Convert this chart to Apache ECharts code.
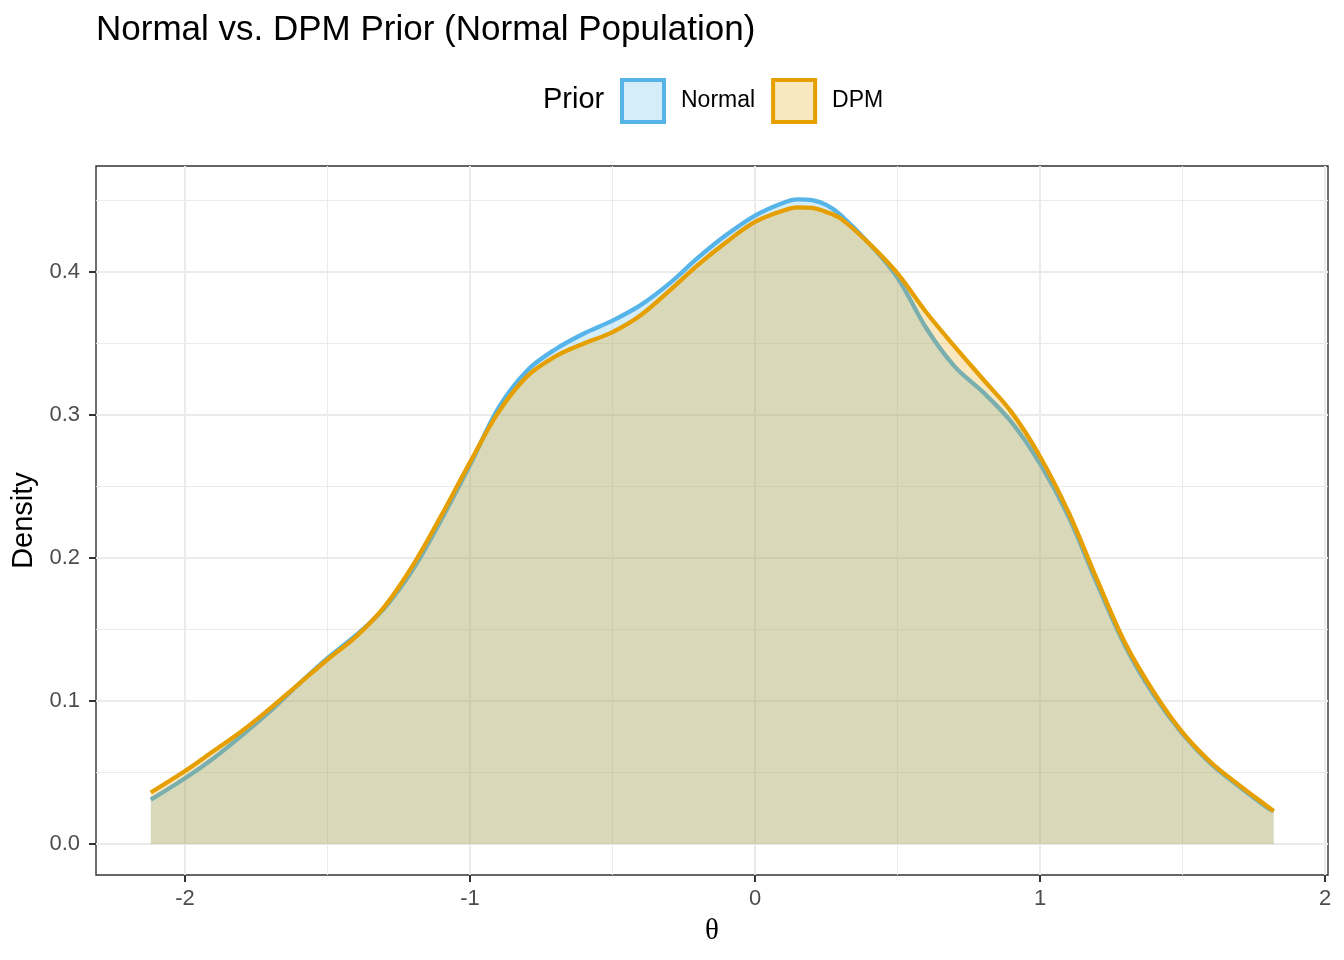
<!DOCTYPE html>
<html>
<head>
<meta charset="utf-8">
<script src="https://cdn.jsdelivr.net/npm/echarts@6/dist/echarts.min.js"></script>
<style>
html,body{margin:0;padding:0;background:#fff;}
#chart{width:1344px;height:960px;}
</style>
</head>
<body>
<div id="chart"></div>
<script>
// theta grid (x values)
const theta = [-2.12,-2.0,-1.9,-1.8,-1.7,-1.6,-1.5,-1.4,-1.3,-1.2,-1.1,-1.0,-0.9,-0.8,-0.7,-0.6,-0.5,-0.4,-0.3,-0.2,-0.1,0.0,0.1,0.15,0.2,0.25,0.3,0.4,0.5,0.6,0.7,0.8,0.9,1.0,1.1,1.2,1.3,1.4,1.5,1.6,1.7,1.8,1.82];
// density under Normal prior
const normalDensity = [0.031,0.046,0.060,0.076,0.093,0.112,0.130,0.146,0.165,0.192,0.227,0.265,0.305,0.331,0.346,0.357,0.366,0.377,0.392,0.410,0.426,0.4395,0.4485,0.4508,0.4503,0.4470,0.4400,0.420,0.396,0.361,0.334,0.316,0.295,0.266,0.229,0.182,0.138,0.104,0.077,0.056,0.040,0.025,0.023];
// density under DPM prior
const dpmDensity = [0.036,0.051,0.065,0.079,0.095,0.112,0.129,0.145,0.166,0.195,0.230,0.267,0.302,0.327,0.341,0.350,0.358,0.370,0.387,0.405,0.421,0.435,0.4430,0.4452,0.4448,0.4420,0.4375,0.420,0.399,0.372,0.348,0.325,0.302,0.271,0.232,0.185,0.140,0.106,0.078,0.057,0.041,0.026,0.023];
const xTicks = [-2,-1,0,1,2];
const yTicks = [0,0.1,0.2,0.3,0.4];
const seriesNames = ['Normal','DPM'];
const lineColors = ['#56B4E9','#E69F00'];
const fillColors = ['rgba(86,180,233,0.25)','rgba(230,159,0,0.25)'];

const pairs = arr => theta.map((t,i)=>[t,arr[i]]);
const FONT = '"Liberation Sans", Arial, Helvetica, sans-serif';

const chart = echarts.init(document.getElementById('chart'), null, {renderer:'canvas'});
chart.setOption({
  animation:false,
  backgroundColor:'#ffffff',
  title:{
    text:'Normal vs. DPM Prior (Normal Population)',
    left:91, top:8,
    textStyle:{fontFamily:FONT,fontSize:35,fontWeight:'normal',color:'#000'}
  },
  legend:{
    left:620, top:78, padding:0,
    itemWidth:42, itemHeight:42, itemGap:16,
    icon:'rect',
    selectedMode:false,
    textStyle:{fontFamily:FONT,fontSize:23,color:'#000',padding:[0,0,0,12]},
    data:seriesNames.map((n,i)=>({
      name:n, icon:'rect',
      itemStyle:{color:fillColors[i],borderColor:lineColors[i],borderWidth:4}
    }))
  },
  graphic:[{
    type:'text', left:543, top:85,
    style:{text:'Prior',font:'29px '+FONT,fill:'#000'}
  }],
  grid:{
    left:96, right:16, top:166, bottom:85,
    show:true, borderColor:'#333333', borderWidth:1.4,
    backgroundColor:'transparent',
    containLabel:false, outerBoundsMode:'none'
  },
  xAxis:{
    type:'value',
    min:-2.3123, max:2.0105,
    splitNumber:4,
    name:'θ', nameLocation:'middle', nameGap:42,
    nameTextStyle:{fontFamily:'"Liberation Serif", "DejaVu Serif", serif',fontSize:29,color:'#000'},
    axisLine:{show:false,onZero:false},
    axisTick:{show:true,inside:false,length:7,customValues:xTicks,lineStyle:{color:'#333333',width:2}},
    axisLabel:{show:true,customValues:xTicks,margin:13,fontFamily:FONT,fontSize:22,color:'#4D4D4D',
      formatter:v=>String(v)},
    splitLine:{show:true,lineStyle:{color:'#EBEBEB',width:2}},
    minorTick:{show:false,splitNumber:2},
    minorSplitLine:{show:true,lineStyle:{color:'#EBEBEB',width:1}}
  },
  yAxis:{
    type:'value',
    min:-0.02168, max:0.47413,
    splitNumber:5,
    name:'Density', nameLocation:'middle', nameGap:53, nameRotate:90,
    nameTextStyle:{fontFamily:FONT,fontSize:29,color:'#000'},
    axisLine:{show:false,onZero:false},
    axisTick:{show:true,inside:false,length:7,customValues:yTicks,lineStyle:{color:'#333333',width:2}},
    axisLabel:{show:true,customValues:yTicks,margin:16,fontFamily:FONT,fontSize:22,color:'#4D4D4D',
      formatter:v=>v.toFixed(1)},
    splitLine:{show:true,lineStyle:{color:'#EBEBEB',width:2}},
    minorTick:{show:false,splitNumber:2},
    minorSplitLine:{show:true,lineStyle:{color:'#EBEBEB',width:1}}
  },
  series:[normalDensity,dpmDensity].map((arr,i)=>({
    name:seriesNames[i],
    type:'line',
    z:2+i*2,
    data:pairs(arr),
    smooth:0.35,
    showSymbol:false,
    symbol:'none',
    lineStyle:{color:lineColors[i],width:4.3},
    itemStyle:{color:lineColors[i]},
    areaStyle:{color:fillColors[i],origin:'auto',opacity:1},
    emphasis:{disabled:true}
  }))
});
</script>
</body>
</html>
